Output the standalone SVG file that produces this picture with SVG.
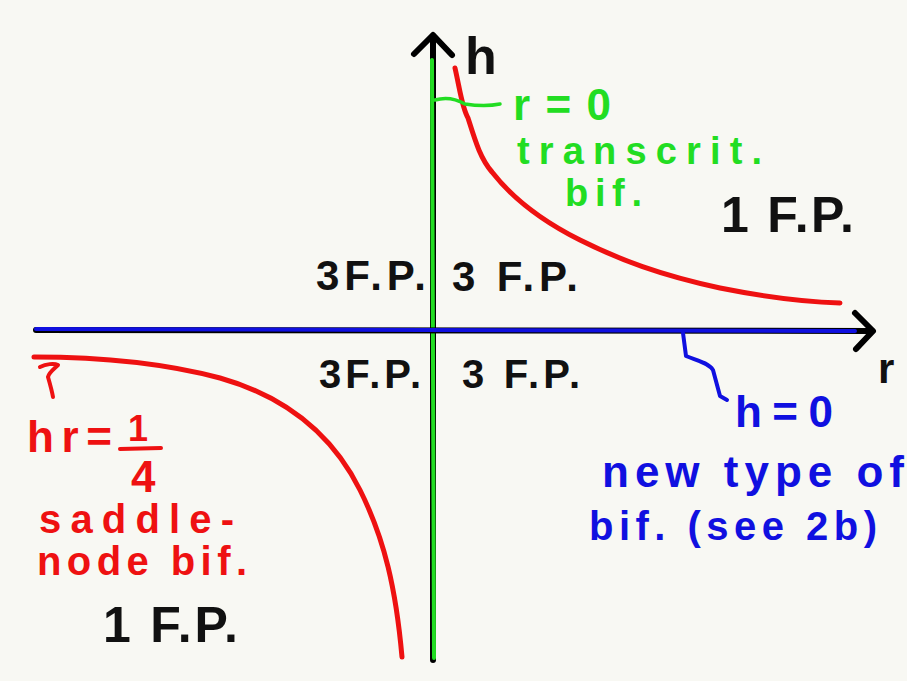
<svg xmlns="http://www.w3.org/2000/svg" width="907" height="681" viewBox="0 0 907 681">
<style>
.t{font-family:"Liberation Sans","DejaVu Sans",sans-serif;font-weight:bold}
.k{fill:#111}
.g{fill:#22dd22}
.b{fill:#1010e0}
.r{fill:#ee1111}
.ln{fill:none;stroke-linecap:round;stroke-linejoin:round}
</style>
<rect x="0" y="0" width="907" height="681" fill="#f8f8f3"/>
<g id="connectors">
  <path class="ln" d="M433 660 L433 36" stroke="#000" stroke-width="6"/>
  <path class="ln" d="M414 54 L433 35 L452 55" stroke="#000" stroke-width="6"/>
  <path class="ln" d="M434 658 L432 60" stroke="#22dd22" stroke-width="4"/>
  <path class="ln" d="M36 330 L872 331" stroke="#000" stroke-width="6"/>
  <path class="ln" d="M855 313 L873 331 L856 349" stroke="#000" stroke-width="6"/>
  <path class="ln" d="M36 329 L855 331" stroke="#1010e0" stroke-width="4"/>
  <path class="ln" d="M455 68 C460 90 462 108 468 118 C475 140 480 158 492 172 C510 195 540 220 580 240 C620 260 660 275 720 288 C770 298 810 302 840 303" stroke="#ee1111" stroke-width="5"/>
  <path class="ln" d="M34 357 C100 357 160 362 220 378 C280 395 330 430 360 490 C385 540 396 590 402 657" stroke="#ee1111" stroke-width="5"/>
  <path class="ln" d="M40 367 C46 364 54 363 58 365 C54 369 49 372 48 377 C50 384 52 391 53 397" stroke="#ee1111" stroke-width="4"/>
  <path class="ln" d="M435 100 C448 96 458 100 465 104 C478 106 490 106 500 104" stroke="#22dd22" stroke-width="3.5"/>
  <path class="ln" d="M683 333 L686 356 C695 360 708 362 713 370 L720 396 L727 400" stroke="#1010e0" stroke-width="4"/>
</g>
<g id="axis-h"><text class="t k" x="465" y="74" font-size="52">h</text></g>
<g id="axis-r"><text class="t k" x="878" y="383" font-size="42">r</text></g>
<g id="label-r0">
  <text class="t g" x="513" y="120" font-size="44" textLength="98" lengthAdjust="spacing">r=0</text>
  <text class="t g" x="517" y="164" font-size="38" textLength="245" lengthAdjust="spacing">transcrit.</text>
  <text class="t g" x="565" y="206" font-size="38" textLength="77" lengthAdjust="spacing">bif.</text>
</g>
<g id="q1-top-right"><text class="t k" x="721" y="232" font-size="50" textLength="133" lengthAdjust="spacing">1 F.P.</text></g>
<g id="q-top-left"><text class="t k" x="316" y="290" font-size="42" textLength="110" lengthAdjust="spacing">3F.P.</text></g>
<g id="q-top-right"><text class="t k" x="452" y="291" font-size="42" textLength="126" lengthAdjust="spacing">3 F.P.</text></g>
<g id="q-bot-left"><text class="t k" x="319" y="388" font-size="40" textLength="102" lengthAdjust="spacing">3F.P.</text></g>
<g id="q-bot-right"><text class="t k" x="462" y="388" font-size="40" textLength="118" lengthAdjust="spacing">3 F.P.</text></g>
<g id="label-h0">
  <text class="t b" x="735" y="427" font-size="44" textLength="98" lengthAdjust="spacing">h=0</text>
  <text class="t b" x="602" y="487" font-size="44" textLength="302" lengthAdjust="spacing">new type of</text>
  <text class="t b" x="589" y="540" font-size="40" textLength="288" lengthAdjust="spacing">bif. (see 2b)</text>
</g>
<g id="label-hr">
  <text class="t r" x="27" y="452" font-size="44" textLength="85" lengthAdjust="spacing">hr=</text>
  <text class="t r" x="128" y="441" font-size="36">1</text>
  <path class="ln" d="M120 449 L161 448" stroke="#ee1111" stroke-width="4"/>
  <text class="t r" x="131" y="492" font-size="44">4</text>
  <text class="t r" x="39" y="533" font-size="40" textLength="195" lengthAdjust="spacing">saddle-</text>
  <text class="t r" x="37" y="575" font-size="40" textLength="210" lengthAdjust="spacing">node bif.</text>
</g>
<g id="q1-bot-left"><text class="t k" x="103" y="642" font-size="50" textLength="135" lengthAdjust="spacing">1 F.P.</text></g>
</svg>
